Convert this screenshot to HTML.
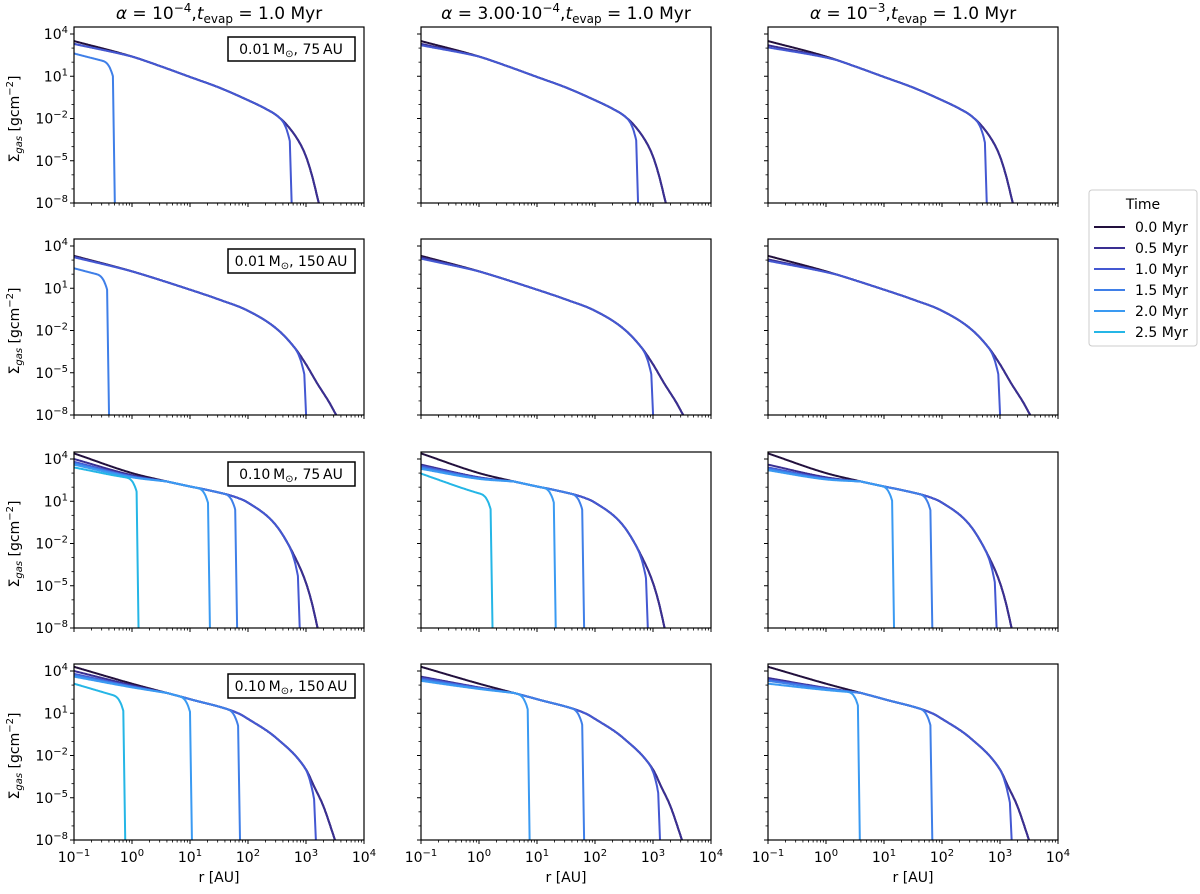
<!DOCTYPE html>
<html><head><meta charset="utf-8"><style>
body{margin:0;background:#fff;}
svg text{font-family:"DejaVu Sans","Liberation Sans",sans-serif;fill:#000;}
</style></head><body>
<svg id="fig" width="1200" height="889" viewBox="0 0 1200 889" xmlns="http://www.w3.org/2000/svg"></svg>
<script>
// ---- data ----
const timeLabels = ["0.0 Myr","0.5 Myr","1.0 Myr","1.5 Myr","2.0 Myr","2.5 Myr"];
const timeColors = ["#22103d","#3a2f92","#4458d2","#3f7fe8","#3a9af2","#25b6e6"];
const colTitles = [["10","−4"],["3.00·10","−4"],["10","−3"]];
const rowMass = ["0.01","0.01","0.10","0.10"];
const rowRadius = [" 75"," 150"," 75"," 150"];
const xTickExp = [-1,0,1,2,3,4];
const yTickExp = [4,1,-2,-5,-8];
// profiles per row: log r knots and log Sigma values
const profLogR = [
 [-1,0,0.5,1,1.5,2,2.3,2.5,2.7,2.9,3.0,3.1,3.22],
 [-1,0,1,1.5,2,2.5,2.8,3.0,3.2,3.4,3.52],
 [-1,0,0.5,1,1.3,1.78,2,2.5,2.86,3.0,3.1,3.2],
 [-1,0,1,1.83,2,2.5,3.0,3.14,3.3,3.5]
];
const profLogS = [
 [3.5,2.4,1.7,0.95,0.2,-0.7,-1.3,-1.8,-2.6,-3.8,-4.7,-6.0,-8],
 [3.3,2.2,0.9,0.2,-0.6,-1.9,-3.2,-4.4,-5.8,-7.1,-8],
 [4.4,3.0,2.5,2.05,1.8,1.3,0.9,-0.8,-3.4,-4.8,-6.2,-8],
 [4.3,3.1,2.0,1.0,0.6,-0.8,-3.0,-4.2,-5.6,-8]
];
// per panel [row][col]: inner log Sigma at r=0.1 per time (null = absent)
const innerLog = [
 [[3.5,3.3,3.3,2.4,null,null],[3.5,3.3,3.2,null,null,null],[3.5,3.2,3.05,null,null,null]],
 [[3.3,3.25,3.2,2.2,null,null],[3.3,3.2,3.1,null,null,null],[3.3,3.05,2.95,null,null,null]],
 [[4.4,4.0,3.8,3.7,3.6,3.4],[4.4,3.6,3.5,3.4,3.3,2.6],[4.4,3.6,3.4,3.3,3.2,null]],
 [[4.3,4.0,3.8,3.7,3.6,2.8],[4.3,3.6,3.5,3.4,3.3,null],[4.3,3.5,3.4,3.3,3.1,null]]
];
// per panel: log10 cutoff radius per time (null = no cutoff)
const cutLogR = [
 [[null,null,2.72,-0.33,null,null],[null,null,2.71,null,null,null],[null,null,2.74,null,null,null]],
 [[null,null,2.97,-0.43,null,null],[null,null,2.97,null,null,null],[null,null,2.97,null,null,null]],
 [[null,null,2.86,1.78,1.31,0.08],[null,null,2.88,1.78,1.29,0.2],[null,null,2.91,1.8,1.14,null]],
 [[null,null,3.14,1.83,1.0,-0.15],[null,null,3.09,1.78,0.84,null],[null,null,3.17,1.8,0.55,null]]
];
const fadeSpan = [[1.0,1.0,1.2],[1.0,1.0,1.2],[1.6,1.6,1.6],[1.6,1.6,1.6]];

// ---- layout ----
const colX = [74,421,768], rowY = [27,239,452,664], W = 290, H = 176;
const NS = "http://www.w3.org/2000/svg";
const svg = document.getElementById('fig');
function mk(tag, attrs, parent){const e=document.createElementNS(NS,tag);for(const k in attrs)e.setAttribute(k,attrs[k]);(parent||svg).appendChild(e);return e;}
// monotone cubic interpolation
function interp(xs,ys,x){
  const n=xs.length;
  if(x<=xs[0])return ys[0]; if(x>=xs[n-1])return ys[n-1];
  const d=[],m=[];
  for(let i=0;i<n-1;i++)d.push((ys[i+1]-ys[i])/(xs[i+1]-xs[i]));
  m[0]=d[0];m[n-1]=d[n-2];
  for(let i=1;i<n-1;i++){m[i]=(d[i-1]*d[i]<=0)?0:(d[i-1]+d[i])/2;}
  for(let i=0;i<n-1;i++){if(d[i]===0){m[i]=m[i+1]=0;continue;}const a=m[i]/d[i],b=m[i+1]/d[i],s=a*a+b*b;if(s>9){const t=3/Math.sqrt(s);m[i]=t*a*d[i];m[i+1]=t*b*d[i];}}
  let i=0;while(x>xs[i+1])i++;
  const h=xs[i+1]-xs[i],t=(x-xs[i])/h,t2=t*t,t3=t2*t;
  return (2*t3-3*t2+1)*ys[i]+(t3-2*t2+t)*h*m[i]+(-2*t3+3*t2)*ys[i+1]+(t3-t2)*h*m[i+1];
}

for(let r=0;r<4;r++){for(let c=0;c<3;c++){
  const x0=colX[c], y0=rowY[r];
  const sx=lr=>x0+(lr+1)/5*W;
  const yTop=y0+7, yBot=y0+H;
  const sy=ls=>yBot-(ls+8)/12*(yBot-yTop);
  const g=mk('g',{});
  
  
  const cid='clip'+r+c;
  const cp=mk('clipPath',{id:cid},g);mk('rect',{x:x0,y:y0,width:W,height:H},cp);
  const lines=mk('g',{'clip-path':'url(#'+cid+')'},g);
  for(let t=0;t<6;t++){
    const inner=innerLog[r][c][t]; if(inner===null) continue;
    const xs=profLogR[r], ys=profLogS[r];
    const off=inner-ys[0], span=fadeSpan[r][c];
    const cut=cutLogR[r][c][t];
    const end=cut===null?xs[xs.length-1]:cut;
    const deep=inner<innerLog[r][c][2]-0.7;
    let d='';
    for(let lr=-1;lr<=end+1e-9;lr+=0.01){
      const f=deep?0.8:Math.max(0,1-(lr+1)/span);
      let v=interp(xs,ys,lr)+off*f;
      if(cut!==null){const dd=end-lr; if(dd<0.2) v-=0.9*Math.pow(1-dd/0.2,3);}
      d+=(d?'L':'M')+sx(lr).toFixed(1)+','+sy(v).toFixed(1);
    }
    if(cut!==null){d+='L'+(sx(cut)+2).toFixed(1)+','+(yBot+5);}
    const p=mk('path',{d:d,fill:'none',stroke:timeColors[t],'stroke-width':2,'stroke-linejoin':'round'},lines);
    
    
  }
  // frame
  const fr=mk('rect',{x:x0,y:y0,width:W,height:H,fill:'none',stroke:'#000','stroke-width':1.2},g);
  
  
  // x ticks
  for(let e=-1;e<=4;e++){
    const X=sx(e);
    mk('line',{x1:X,x2:X,y1:yBot,y2:yBot+4,stroke:'#000','stroke-width':1},g);
    if(e<4)for(let m=2;m<10;m++){const Xm=sx(e+Math.log10(m));mk('line',{x1:Xm,x2:Xm,y1:yBot,y2:yBot+2.5,stroke:'#000','stroke-width':0.8},g);}
  }
  if(r===3){
    xTickExp.forEach(e=>{const tx=mk('text',{x:sx(e),y:yBot+22,'text-anchor':'middle','font-size':14},g);
      
      tx.textContent='10';const s=mk('tspan',{dy:-6,'font-size':10},tx);s.textContent=e<0?'−'+(-e):String(e);});
    const xl=mk('text',{x:x0+W/2,y:yBot+42,'text-anchor':'middle','font-size':14},g);
    xl.textContent='r [AU]';
  }
  // y ticks
  for(let e=-8;e<=4;e++){
    const Y=sy(e);const major=(e-4)%3===0;
    mk('line',{x1:x0-(major?4:2.5),x2:x0,y1:Y,y2:Y,stroke:'#000','stroke-width':major?1:0.8},g);
  }
  if(c===0){
    yTickExp.forEach(e=>{const tx=mk('text',{x:x0-6,y:sy(e)+5,'text-anchor':'end','font-size':14},g);
      
      tx.textContent='10';const s=mk('tspan',{dy:-6,'font-size':10},tx);s.textContent=e<0?'−'+(-e):String(e);});
    const yl=mk('text',{transform:'translate(19,'+(y0+H/2+4)+') rotate(-90)','text-anchor':'middle','font-size':14},g);
    
    yl.textContent='Σ';const s1=mk('tspan',{dy:3,'font-size':10,'font-style':'italic'},yl);s1.textContent='gas';
    const s2=mk('tspan',{dy:-3},yl);s2.textContent=' [gcm';const s3=mk('tspan',{dy:-6,'font-size':10},yl);s3.textContent='−2';
    const s4=mk('tspan',{dy:6},yl);s4.textContent=']';
    const bx=mk('rect',{x:x0+154,y:y0+10,width:127,height:24,fill:'#fff',stroke:'#000','stroke-width':1.5},g);
    
    const bt=mk('text',{x:x0+217,y:y0+27,'text-anchor':'middle','font-size':14,'xml:space':'preserve'},g);
    
    bt.textContent=rowMass[r]+'\u2009M';
    const sun=mk('tspan',{dy:3,'font-size':10},bt);sun.textContent='\u2299';
    const rest=mk('tspan',{dy:-3},bt);rest.textContent=','+rowRadius[r]+'\u2009AU';
  }
  if(r===0){
    const tt=mk('text',{x:x0+W/2,y:19,'text-anchor':'middle','font-size':17},g);
    
    const a=mk('tspan',{'font-style':'italic'},tt);a.textContent='α';
    const b=mk('tspan',{},tt);b.textContent=' = '+colTitles[c][0];
    const e1=mk('tspan',{dy:-7,'font-size':12},tt);e1.textContent=colTitles[c][1];
    const b2=mk('tspan',{dy:7},tt);b2.textContent=',';
    const ti=mk('tspan',{'font-style':'italic'},tt);ti.textContent='t';
    const sb=mk('tspan',{dy:4,'font-size':12},tt);sb.textContent='evap';
    const b3=mk('tspan',{dy:-4},tt);b3.textContent=' = 1.0 Myr';
  }
}}
// legend
const lg=mk('g',{});


mk('rect',{x:1089,y:190,width:108,height:156,rx:3,fill:'#fff',stroke:'#ccc','stroke-width':1},lg);
const lt=mk('text',{x:1143,y:209,'text-anchor':'middle','font-size':14},lg);lt.textContent='Time';

timeLabels.forEach((lab,i)=>{
  const y=227+i*21;
  const e=mk('g',{},lg);
  
  
  mk('line',{x1:1094,x2:1125,y1:y,y2:y,stroke:timeColors[i],'stroke-width':2},e);
  const t=mk('text',{x:1135,y:y+5,'font-size':14},e);t.textContent=lab;
});
</script>
</body></html>
